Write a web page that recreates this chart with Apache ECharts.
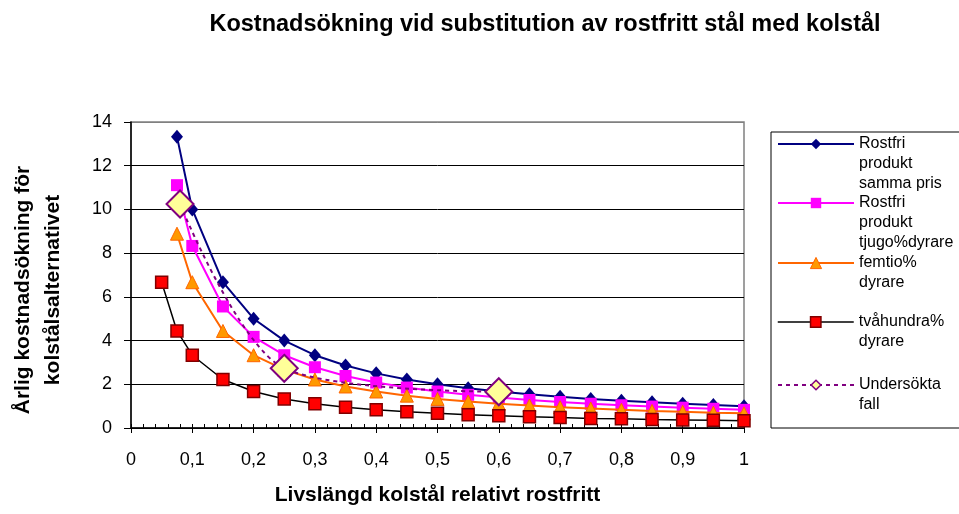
<!DOCTYPE html>
<html>
<head>
<meta charset="utf-8">
<script src="https://cdn.jsdelivr.net/npm/echarts@6/dist/echarts.min.js"></script>
<style>
html,body{margin:0;padding:0;background:#fff;}
#chart{width:959px;height:514px;}
</style>
</head>
<body>
<div id="chart"></div>
<script>
// ---- data ----
const titleText = 'Kostnadsökning vid substitution av rostfritt stål med kolstål';
const xAxisName = 'Livslängd kolstål relativt rostfritt';
const yAxisName = 'Årlig kostnadsökning för\nkolstålsalternativet';

const xTickLabels = ['0', '0,1', '0,2', '0,3', '0,4', '0,5', '0,6', '0,7', '0,8', '0,9', '1'];

const xMain = [0.075, 0.1, 0.15, 0.2, 0.25, 0.3, 0.35, 0.4, 0.45, 0.5, 0.55, 0.6, 0.65, 0.7, 0.75, 0.8, 0.85, 0.9, 0.95, 1.0];
const xRed  = [0.05, 0.075, 0.1, 0.15, 0.2, 0.25, 0.3, 0.35, 0.4, 0.45, 0.5, 0.55, 0.6, 0.65, 0.7, 0.75, 0.8, 0.85, 0.9, 0.95, 1.0];

const samePrice   = [13.33, 10.0, 6.67, 5.0, 4.0, 3.33, 2.86, 2.5, 2.22, 2.0, 1.82, 1.67, 1.54, 1.43, 1.33, 1.25, 1.18, 1.11, 1.05, 1.0];
const twenty      = [11.11, 8.33, 5.56, 4.17, 3.33, 2.78, 2.38, 2.08, 1.85, 1.67, 1.52, 1.39, 1.28, 1.19, 1.11, 1.04, 0.98, 0.93, 0.88, 0.83];
const fifty       = [8.89, 6.67, 4.44, 3.33, 2.67, 2.22, 1.9, 1.67, 1.48, 1.33, 1.21, 1.11, 1.03, 0.95, 0.89, 0.83, 0.78, 0.74, 0.7, 0.67];
const twoHundred  = [6.67, 4.44, 3.33, 2.22, 1.67, 1.33, 1.11, 0.95, 0.83, 0.74, 0.67, 0.61, 0.56, 0.51, 0.48, 0.44, 0.42, 0.39, 0.37, 0.35, 0.33];

const xCases = [0.08, 0.25, 0.6];
const cases  = [10.25, 2.73, 1.66];

const seriesNames = ['Rostfri produkt samma pris', 'Rostfri produkt tjugo%dyrare', 'femtio% dyrare', 'tvåhundra% dyrare', 'Undersökta fall'];
const legendLines = [
  ['Rostfri', 'produkt', 'samma pris'],
  ['Rostfri', 'produkt', 'tjugo%dyrare'],
  ['femtio%', 'dyrare'],
  ['tvåhundra%', 'dyrare'],
  ['Undersökta', 'fall']
];

// ---- styling ----
const FONT = '"Liberation Sans", Arial, sans-serif';
const pair = (xs, ys) => xs.map((x, i) => [x, ys[i]]);

const styles = [
  { line: '#000080', width: 2, symbol: 'diamond', size: [12, 14], fill: '#000080', border: '#000080', bw: 0, legendSize: 13 },
  { line: '#FF00FF', width: 2, symbol: 'rect', size: 12, fill: '#FF00FF', border: '#FF00FF', bw: 0, legendSize: 13 },
  { line: '#FF6600', width: 2, symbol: 'triangle', size: 13, fill: '#FF9900', border: '#FF6600', bw: 1, legendSize: 14 },
  { line: '#000000', width: 1.5, symbol: 'rect', size: 12, fill: '#FF0000', border: '#800000', bw: 1.5, legendSize: 13 },
  { line: '#800080', width: 2, symbol: 'diamond', size: 27, fill: '#FFFF99', border: '#800080', bw: 2, legendSize: 12, dash: [4, 4] }
];
const seriesData = [pair(xMain, samePrice), pair(xMain, twenty), pair(xMain, fifty), pair(xRed, twoHundred), pair(xCases, cases)];
const legendIconY = [144, 203, 263, 322, 385];

const series = seriesData.map((d, i) => {
  const s = styles[i];
  return {
    name: seriesNames[i],
    type: 'line',
    data: d,
    symbol: s.symbol,
    symbolSize: s.size,
    showAllSymbol: true,
    smooth: i === 4 ? 0.3 : false,
    lineStyle: { color: s.line, width: s.width, type: s.dash || 'solid' },
    itemStyle: { color: s.fill, borderColor: s.border, borderWidth: s.bw },
    emphasis: { disabled: true },
    z: 2 + i
  };
});

const legends = seriesNames.map((name, i) => {
  const s = styles[i];
  const n = legendLines[i].length;
  const total = 2 * n - 1;
  return {
    data: [name],
    orient: 'vertical',
    left: 777,
    top: legendIconY[i] - total * 10,
    padding: 0,
    itemGap: 0,
    itemWidth: 76,
    itemHeight: s.legendSize,
    selectedMode: false,
    formatter: () => '\n'.repeat(n - 1) + legendLines[i].join('\n'),
    textStyle: { fontSize: 16, lineHeight: 20, color: '#000', fontFamily: FONT },
    itemStyle: { color: s.fill, borderColor: s.border, borderWidth: i === 4 ? 1.5 : s.bw },
    lineStyle: { color: s.line, width: s.width, type: s.dash || 'solid' }
  };
});

const chart = echarts.init(document.getElementById('chart'), null, { renderer: 'canvas' });
chart.setOption({
  animation: false,
  backgroundColor: '#ffffff',
  title: {
    text: titleText,
    left: 540,
    top: 8,
    textAlign: 'center',
    textStyle: { fontSize: 23.5, fontWeight: 'bold', color: '#000', fontFamily: FONT }
  },
  grid: {
    left: 131, top: 122, right: 215, bottom: 86,
    show: true, borderColor: '#808080', borderWidth: 1.5, backgroundColor: 'transparent'
  },
  legend: legends,
  graphic: [{
    type: 'rect', z: 0,
    shape: { x: 771, y: 132, width: 200, height: 296 },
    style: { fill: 'none', stroke: '#000', lineWidth: 1 }
  }],
  xAxis: [{
    type: 'value', min: 0, max: 1, interval: 0.1, position: 'bottom',
    name: xAxisName, nameLocation: 'middle', nameGap: 57,
    nameTextStyle: { fontSize: 21, fontWeight: 'bold', color: '#000', fontFamily: FONT },
    axisLine: { show: true, lineStyle: { color: '#000', width: 1.5 } },
    axisTick: { show: true, inside: false, length: 5, lineStyle: { color: '#000', width: 1 } },
    axisLabel: {
      show: true, margin: 23, fontSize: 18, color: '#000', fontFamily: FONT,
      formatter: v => xTickLabels[Math.round(v * 10)]
    },
    splitLine: { show: false }
  }, {
    type: 'value', min: 0, max: 1, interval: 0.1, position: 'bottom',
    axisLine: { show: false },
    axisTick: { show: true, inside: true, length: 4, lineStyle: { color: '#000', width: 1 } },
    minorTick: { show: true, splitNumber: 5, length: 4, lineStyle: { color: '#000', width: 1 } },
    axisLabel: { show: false },
    splitLine: { show: false }
  }],
  yAxis: {
    type: 'value', min: 0, max: 14, interval: 2,
    name: yAxisName, nameLocation: 'middle', nameGap: 63, nameRotate: 90,
    nameTextStyle: { fontSize: 21, fontWeight: 'bold', color: '#000', fontFamily: FONT, lineHeight: 30, align: 'center', padding: [0, 30, 0, 0] },
    axisLine: { show: true, lineStyle: { color: '#000', width: 1.5 } },
    axisTick: { show: true, inside: false, length: 7, lineStyle: { color: '#000', width: 1 } },
    axisLabel: { margin: 19, fontSize: 18, color: '#000', fontFamily: FONT },
    splitLine: { show: true, lineStyle: { color: ['#000', '#000', '#000', '#000', '#000', '#000', '#000', '#808080'], width: 1 } }
  },
  series: series
});
</script>
</body>
</html>
